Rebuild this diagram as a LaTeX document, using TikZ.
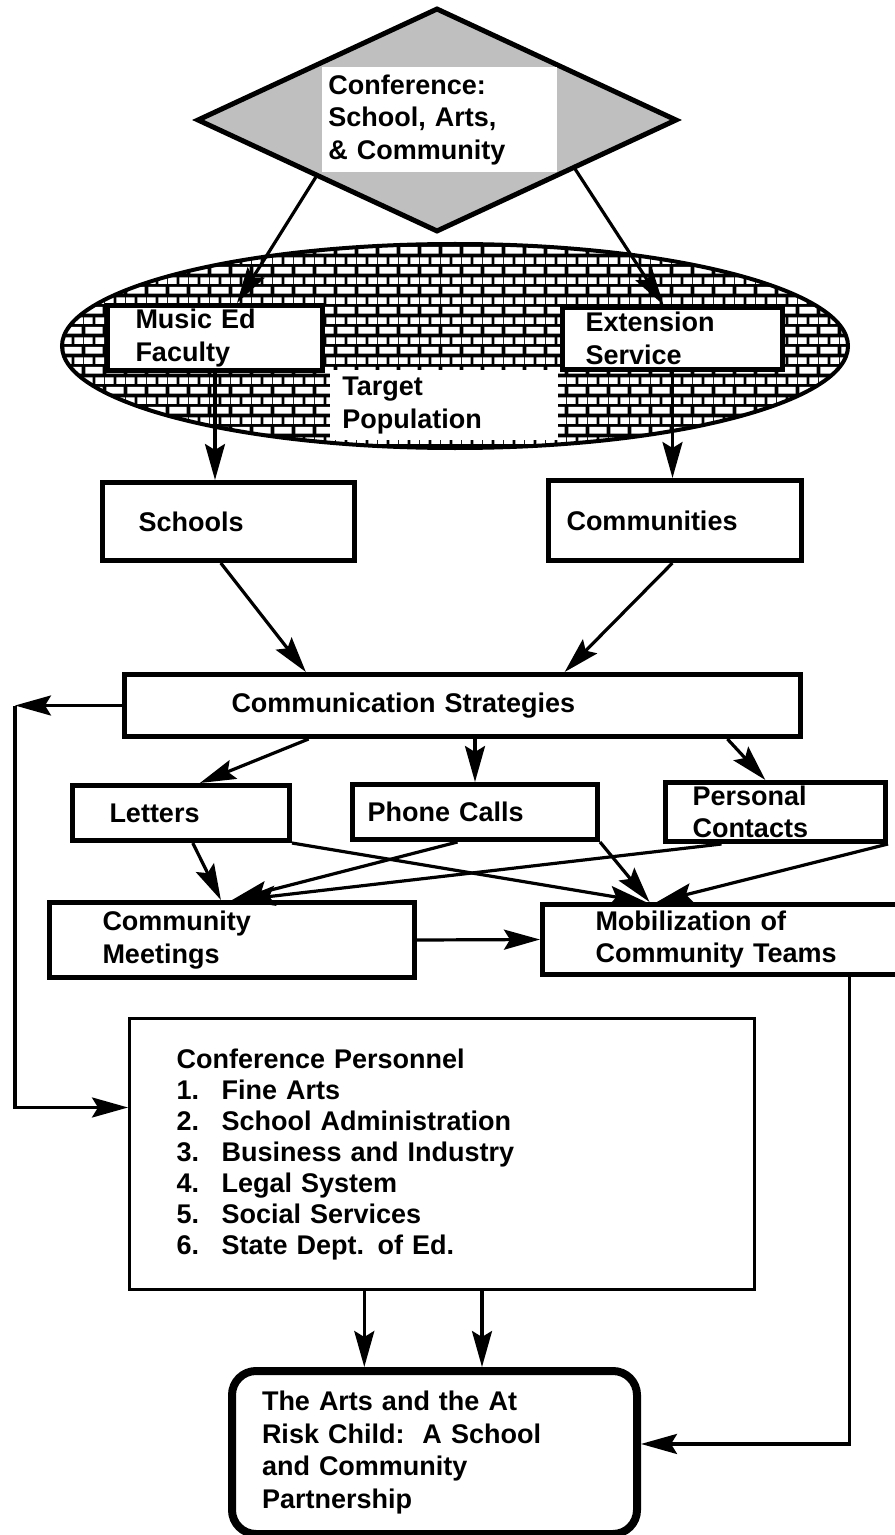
\documentclass[tikz,border=0pt]{standalone}
\usepackage{fontspec}
\setmainfont{Liberation Sans}
\usetikzlibrary{%
    arrows.meta,%
    calc,%
    patterns,%
    shapes.geometric%
}

% White bricks, drawn over a black fill
\pgfdeclarepatternformonly{brickwall}{\pgfpointorigin}{\pgfqpoint{10.5pt}{10pt}}%
    {\pgfqpoint{10.5pt}{10pt}}{%
    \pgfpathrectangle{\pgfqpoint{0.75pt}{0.75pt}}{\pgfqpoint{9pt}{3.5pt}}%
    \pgfpathrectangle{\pgfqpoint{6pt}{5.75pt}}{\pgfqpoint{4.5pt}{3.5pt}}%
    \pgfpathrectangle{\pgfqpoint{0pt}{5.75pt}}{\pgfqpoint{4.5pt}{3.5pt}}%
    \pgfusepath{fill}%
}

% Numbered line in the personnel list
\newcommand{\cpitem}[2]{\makebox[22.5pt][l]{#1}#2}

\begin{document}
\begin{tikzpicture}[
    x=0.5pt, y=-0.5pt,
    boxfont/.style={font=\bfseries\fontsize{13.5}{16.3}\selectfont},
    box/.style={draw, line width=2.5pt, fill=white, anchor=north west,
                inner ysep=0pt, align=left, boxfont},
    plain/.style={fill=white, anchor=north west, inner ysep=0pt,
                  align=left, boxfont},
    arrow/.style={line width=1.6pt,
                  -{Stealth[length=18pt,width=10pt,inset=3pt]}},
    ]

    \useasboundingbox (0,0) rectangle (894,1535);
    \fill[white] (0,0) rectangle (894,1535);

    % Conference diamond
    \node[diamond, draw, line width=2.5pt, fill=gray!50, inner sep=0pt,
          minimum width=240pt, minimum height=112pt] (conf) at (437,120) {};
    \node[plain, minimum width=117.5pt, minimum height=52.5pt,
          inner xsep=3pt, text width=111.5pt] (conftitle) at (322,67)
          {Conference:\\School, Arts,\\\& Community};

    % Target population (brick ellipse)
    \node[ellipse, draw, line width=2pt, inner sep=0pt,
          minimum width=393pt, minimum height=102pt,
          preaction={fill=black}, pattern=brickwall, pattern color=white]
          (population) at (455,346) {};
    \node[plain, minimum width=114pt, minimum height=35pt,
          inner xsep=6pt, text width=102pt] (poplabel) at (330,370)
          {Target\\Population};

    \node[box, minimum width=107.5pt, minimum height=32.5pt,
          inner xsep=14pt, text width=79.5pt] (musiced) at (105,303)
          {Music Ed\\Faculty};
    \node[box, minimum width=110pt, minimum height=31pt,
          inner xsep=11.5pt, text width=87pt] (extserv) at (560,305)
          {Extension\\Service};

    % Schools and communities
    \node[box, minimum width=126pt, minimum height=39pt,
          inner xsep=18pt, text width=90pt] (schools) at (100,480) {Schools};
    \node[box, minimum width=126.5pt, minimum height=40pt,
          inner xsep=9pt, text width=108.5pt] (communities) at (546,478)
          {Communities};

    % Strategies and the three channels
    \node[box, minimum width=338pt, minimum height=31pt,
          inner xsep=53.5pt, text width=231pt] (strategies) at (122,672)
          {Communication Strategies};
    \node[box, minimum width=108.5pt, minimum height=27.5pt,
          inner xsep=18.5pt, text width=71.5pt] (letters) at (70,783) {Letters};
    \node[box, minimum width=122.5pt, minimum height=27.5pt,
          inner xsep=7.5pt, text width=107.5pt] (phone) at (350,782)
          {Phone Calls};
    \node[box, minimum width=110pt, minimum height=29.5pt,
          inner xsep=13.5pt, text width=83pt] (personal) at (663,780)
          {Personal\\Contacts};

    % Meetings and teams
    \node[box, minimum width=182.5pt, minimum height=37.5pt,
          inner xsep=26.5pt, text width=129.5pt] (meetings) at (47,900)
          {Community\\Meetings};
    \node[box, minimum width=180pt, minimum height=35pt,
          inner xsep=26.5pt, text width=127pt] (teams) at (540,902)
          {Mobilization of\\Community Teams};

    % Personnel list
    \node[box, line width=1.6pt, minimum width=312.5pt, minimum height=135.5pt,
          inner xsep=23.5pt, text width=265.5pt,
          font=\bfseries\fontsize{13.5}{15.5}\selectfont] (personnel) at (128,1017)
          {Conference Personnel\\
           \cpitem{1.}{Fine Arts}\\
           \cpitem{2.}{School Administration}\\
           \cpitem{3.}{Business and Industry}\\
           \cpitem{4.}{Legal System}\\
           \cpitem{5.}{Social Services}\\
           \cpitem{6.}{State Dept. of Ed.}};

    % Partnership
    \node[box, line width=4pt, rounded corners=12pt,
          minimum width=202.5pt, minimum height=81.5pt,
          inner xsep=15pt, text width=172.5pt] (partnership) at (228,1367)
          {The Arts and the At\\Risk Child:\ \ A School\\and Community\\Partnership};

    % Conference to the two channels
    \draw[arrow] ($(conf.west)!0.5!(conf.south)$)
        -- ($(musiced.north west)!0.6!(musiced.north east)$);
    \draw[arrow] ($(conf.east)!0.43!(conf.south)$)
        -- ($(extserv.north west)!0.46!(extserv.north east)$);

    % Down to schools and communities
    \draw[arrow] (musiced.south) -- (musiced.south |- schools.north);
    \draw[arrow] (extserv.south) -- (extserv.south |- communities.north);

    % Into the strategies
    \draw[arrow] ($(schools.south west)!0.47!(schools.south east)$)
        -- ($(strategies.north west)!0.27!(strategies.north east)$);
    \draw[arrow] ($(communities.south west)!0.49!(communities.south east)$)
        -- ($(strategies.north west)!0.65!(strategies.north east)$);

    % Loop back to the personnel
    \coordinate (loop) at (15,700);
    \coordinate (cpin) at ($(personnel.north west)!0.33!(personnel.south west)$);
    \draw[arrow] (strategies.west) -- (strategies.west -| loop);
    \draw[arrow] (strategies.west -| loop) |- (cpin);

    % Strategies to the channels
    \draw[arrow] ($(strategies.south west)!0.274!(strategies.south east)$)
        -- ($(letters.north west)!0.585!(letters.north east)$);
    \draw[arrow] (strategies.south -| phone.north) -- (phone.north);
    \draw[arrow] ($(strategies.south west)!0.889!(strategies.south east)$)
        -- ($(personal.north west)!0.455!(personal.north east)$);

    % Channels to meetings and teams
    \draw[arrow] ($(letters.south west)!0.553!(letters.south east)$)
        -- ($(meetings.north west)!0.47!(meetings.north east)$);
    \draw[arrow] (letters.south east)
        -- ($(teams.north west)!0.29!(teams.north east)$);
    \draw[arrow] ($(phone.south west)!0.43!(phone.south east)$)
        -- ($(meetings.north west)!0.5!(meetings.north east)$);
    \draw[arrow] (phone.south east)
        -- ($(teams.north west)!0.3!(teams.north east)$);
    \draw[arrow] ($(personal.south west)!0.26!(personal.south east)$)
        -- ($(meetings.north west)!0.52!(meetings.north east)$);
    \draw[arrow] (personal.south east)
        -- ($(teams.north west)!0.32!(teams.north east)$);
    \draw[arrow] (meetings.east) -- (teams.west);

    % Into the partnership
    \coordinate (pin1) at ($(partnership.north west)!0.33!(partnership.north east)$);
    \coordinate (pin2) at ($(partnership.north west)!0.615!(partnership.north east)$);
    \draw[arrow] (pin1 |- personnel.south) -- (pin1);
    \draw[arrow] (pin2 |- personnel.south) -- (pin2);
    \draw[arrow] ($(teams.south west)!0.847!(teams.south east)$)
        |- ($(partnership.north east)!0.45!(partnership.south east)$);
\end{tikzpicture}
\end{document}
